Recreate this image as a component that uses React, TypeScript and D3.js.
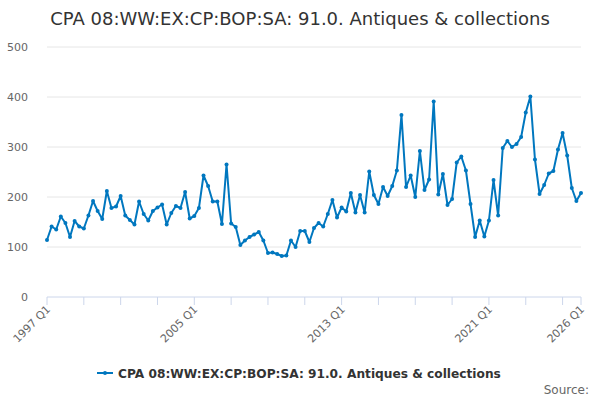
import * as d3 from "d3";

const title = "CPA 08:WW:EX:CP:BOP:SA: 91.0. Antiques & collections";
const startYear = 1997;

// quarterly values, 1997 Q1 .. 2026 Q1
const values = [
  114, 141, 135, 161,
  148, 120, 152, 141,
  137, 163, 192, 172,
  156, 212, 178, 181,
  202, 163, 154, 145,
  191, 166, 153, 172,
  179, 185, 145, 168,
  182, 178, 210, 157,
  162, 178, 243, 222,
  191, 191, 146, 265,
  147, 140, 104, 113,
  120, 125, 130, 113,
  88, 89, 86, 82,
  83, 113, 100, 132,
  132, 110, 138, 148,
  141, 166, 194, 159,
  179, 171, 208, 169,
  204, 169, 251, 204,
  186, 220, 202, 222,
  253, 364, 220, 243,
  200, 292, 214, 235,
  391, 205, 246, 184,
  196, 269, 281, 253,
  186, 120, 153, 121,
  153, 234, 163, 298,
  312, 300, 306, 320,
  369, 401, 275, 206,
  224, 247, 252, 295,
  328, 283, 218, 192,
  208,
];

const yTicks = [0, 100, 200, 300, 400, 500];
const xTickIdx = [0, 8, 16, 24, 32, 40, 48, 56, 64, 72, 80, 88, 96, 104, 112, 116];
const xLabelIdx = [0, 32, 64, 96, 116];

const quarterLabel = (i: number) =>
  `${startYear + Math.floor(i / 4)} Q${(i % 4) + 1}`;

const W = 600;
const H = 400;
const margin = { top: 47, right: 19, bottom: 103, left: 47 };
const font = "'DejaVu Sans', Verdana, sans-serif";
const blue = "#0077bf";

export default function App() {
  const x = d3
    .scaleLinear()
    .domain([0, values.length - 1])
    .range([margin.left, W - margin.right]);
  const y = d3
    .scaleLinear()
    .domain([0, 500])
    .range([H - margin.bottom, margin.top]);

  const line = d3
    .line<number>()
    .x((_, i) => x(i))
    .y((d) => y(d));

  const baseY = y(0);

  return (
    <svg
      width={W}
      height={H}
      style={{ position: "absolute", left: 0, top: 0, fontFamily: font }}
    >
      <rect width={W} height={H} fill="#fff" />
      <text x={W / 2} y={25} textAnchor="middle" fontSize={18} fill="#333">
        {title}
      </text>

      {/* grid */}
      {yTicks.map((t) => (
        <g key={t}>
          {t > 0 && (
            <line
              x1={margin.left}
              x2={W - margin.right}
              y1={y(t)}
              y2={y(t)}
              stroke="#e6e6e6"
            />
          )}
          <text
            x={28}
            y={y(t) + 4}
            textAnchor="end"
            fontSize={11}
            fill="#666"
          >
            {t}
          </text>
        </g>
      ))}

      {/* x axis */}
      <line
        x1={margin.left}
        x2={W - margin.right}
        y1={baseY}
        y2={baseY}
        stroke="#ccd6eb"
      />
      {xTickIdx.map((i) => (
        <line
          key={i}
          x1={x(i)}
          x2={x(i)}
          y1={baseY}
          y2={baseY + 8}
          stroke="#ccd6eb"
        />
      ))}
      {xLabelIdx.map((i) => (
        <text
          key={i}
          transform={`translate(${x(i) + 4},${baseY + 13}) rotate(-45)`}
          textAnchor="end"
          fontSize={11}
          fill="#666"
        >
          {quarterLabel(i)}
        </text>
      ))}

      {/* series */}
      <path
        d={line(values) ?? ""}
        fill="none"
        stroke={blue}
        strokeWidth={2}
        strokeLinejoin="round"
      />
      {values.map((v, i) => (
        <circle key={i} cx={x(i)} cy={y(v)} r={2} fill={blue} />
      ))}

      {/* legend */}
      <g transform="translate(97,373)">
        <line x1={0} x2={16} y1={0} y2={0} stroke={blue} strokeWidth={2} />
        <circle cx={8} cy={0} r={2} fill={blue} />
        <text x={21} y={4.5} fontSize={12.2} fontWeight="bold" fill="#333">
          {title}
        </text>
      </g>
      <text x={589} y={394} textAnchor="end" fontSize={12} fill="#666">
        Source:
      </text>
    </svg>
  );
}
